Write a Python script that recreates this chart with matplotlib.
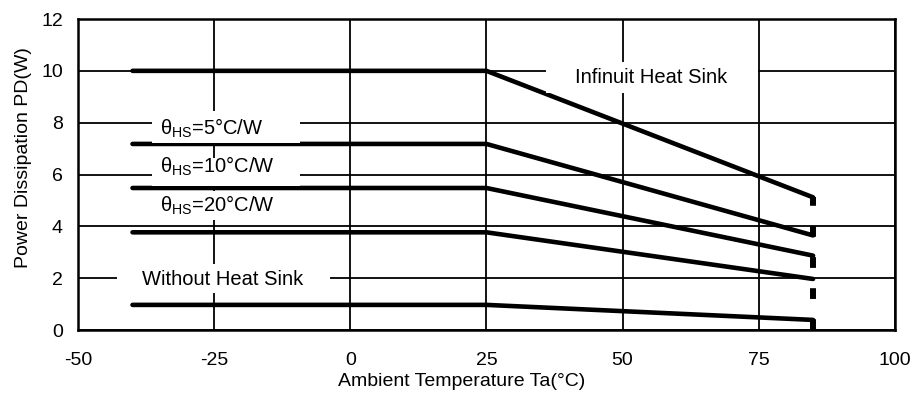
import matplotlib.pyplot as plt
from matplotlib.patches import Rectangle

plt.rcParams['font.family'] = ['Liberation Sans', 'DejaVu Sans']
plt.rcParams['mathtext.fontset'] = 'custom'
plt.rcParams['mathtext.rm'] = 'Liberation Sans'
plt.rcParams['mathtext.it'] = 'Liberation Sans'
plt.rcParams['axes.unicode_minus'] = False

temps = [-40, 25, 85]
infinite = [10.0, 10.0, 5.12]
hs5 = [7.18, 7.18, 3.65]
hs10 = [5.48, 5.48, 2.87]
hs20 = [3.77, 3.77, 1.97]
no_sink = [0.97, 0.97, 0.39]
curves = [infinite, hs5, hs10, hs20, no_sink]

labels = [r'$\theta_{\mathrm{HS}}$=5°C/W', r'$\theta_{\mathrm{HS}}$=10°C/W',
          r'$\theta_{\mathrm{HS}}$=20°C/W', 'Without Heat Sink', 'Infinuit Heat Sink']
label_x = [-35, -35, -35, -38.3, 41.2]
label_y = [7.8, 6.3, 4.8, 1.95, 9.75]
# white boxes behind labels (x0, x1, y0, y1)
box_x0 = [-36.4, -36.4, -36.4, -42.8, 36]
box_x1 = [-9.3, -9.3, -9.3, -3.8, 74.8]
box_y0 = [7.22, 5.57, 4.25, 1.44, 9.13]
box_y1 = [8.46, 6.65, 5.37, 2.55, 10.33]

fig = plt.figure(figsize=(9.13, 4.01), dpi=100)
ax = fig.add_axes([0.0855, 0.177, 0.8945, 0.7756])

ax.set_xlim(-50, 100)
ax.set_ylim(0, 12)
ax.set_xticks([-50, -25, 0, 25, 50, 75, 100])
ax.set_yticks([0, 2, 4, 6, 8, 10, 12])
ax.tick_params(axis='x', length=0, labelsize=14, pad=16)
ax.tick_params(axis='y', length=0, labelsize=14, pad=11)
ax.grid(True, color='black', linewidth=1.3, zorder=1)
ax.set_axisbelow(True)
for s in ax.spines.values():
    s.set_linewidth(1.8)

for c in curves:
    ax.plot(temps, c, color='black', linewidth=3.3, solid_capstyle='round', zorder=3)

# dashed limit at 85 C
ax.plot([85, 85], [0, infinite[-1]], color='black', linewidth=4.3,
        dashes=(1.8, 3.4), dash_capstyle='butt', zorder=3)

for i in range(len(labels)):
    ax.add_patch(Rectangle((box_x0[i], box_y0[i]), box_x1[i] - box_x0[i],
                           box_y1[i] - box_y0[i], facecolor='white',
                           edgecolor='none', zorder=4))
    ax.text(label_x[i], label_y[i], labels[i], fontsize=14.5, ha='left',
            va='center', zorder=5)

ax.set_xlabel('Ambient Temperature Ta(°C)', fontsize=14)
ax.set_ylabel('Power Dissipation PD(W)', fontsize=14)
ax.xaxis.set_label_coords(0.47, -0.137)
ax.yaxis.set_label_coords(-0.057, 0.553)

fig.savefig('out.png', dpi=100)
